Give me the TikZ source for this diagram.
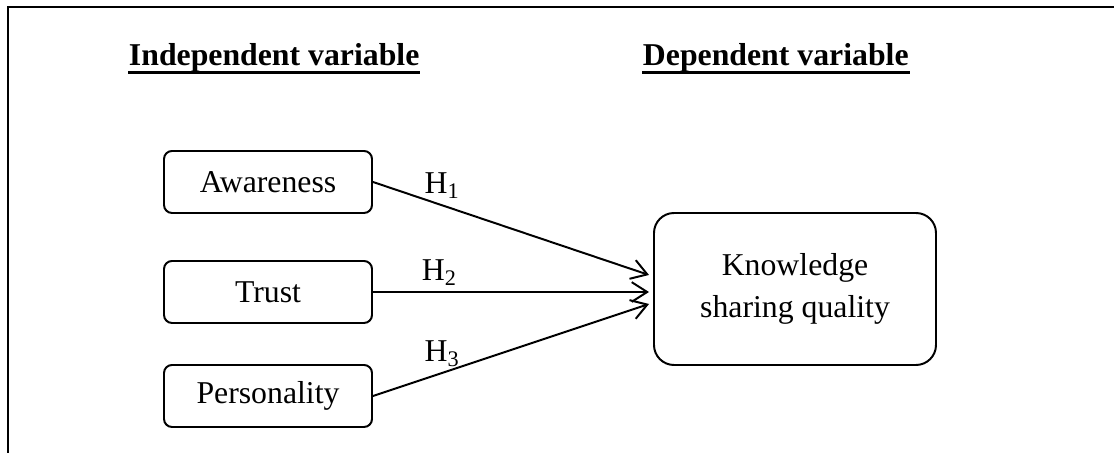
\documentclass[tikz,border=0pt]{standalone}
\usepackage{fontspec}
\setmainfont{Liberation Serif}
\usetikzlibrary{arrows.meta}

\tikzset{
  varbox/.style={draw, rounded corners=0.2cm, minimum width=5.2cm, minimum height=1.55cm},
  hyp/.style={above, inner sep=4pt},
}

\begin{document}
\begin{tikzpicture}[line width=1.4pt, font=\fontsize{22.6}{29.8}\selectfont, >={Straight Barb[length=11pt,width=14pt]}]
\useasboundingbox (0,0) rectangle (27.85,11.325);
\draw (27.85,11.15) -- (0.2,11.15) -- (0.2,0);

% headings
\node[anchor=base west, inner sep=0] (indep) at (3.2,9.69) {\textbf{Independent variable}};
\node[anchor=base west, inner sep=0] (dep) at (16.05,9.69) {\textbf{Dependent variable}};
\foreach \h in {indep,dep} {\draw[line width=2pt] ([yshift=-0.18cm]\h.base west) -- ([yshift=-0.18cm]\h.base east);}

\node[varbox] (aw) at (6.7,6.775) {Awareness};
\node[varbox] (tr) at (6.7,4.025) {Trust};
\node[varbox] (pe) at (6.7,1.425) {Personality};
\node[draw, rounded corners=0.5cm, minimum width=7.05cm, minimum height=3.8cm, align=center] (ksq) at (19.875,4.1) {Knowledge\\sharing quality};

\draw[->] (aw.east) -- ([shift={(-0.1,0.35)}]ksq.west) node[hyp, pos=0.25] {H\textsubscript{1}};
\draw[->] (tr.east) -- ([shift={(-0.1,-0.075)}]ksq.west) node[hyp, pos=0.24] {H\textsubscript{2}};
\draw[->] (pe.east) -- ([shift={(-0.1,-0.375)}]ksq.west) node[hyp, pos=0.25] {H\textsubscript{3}};
\end{tikzpicture}
\end{document}
